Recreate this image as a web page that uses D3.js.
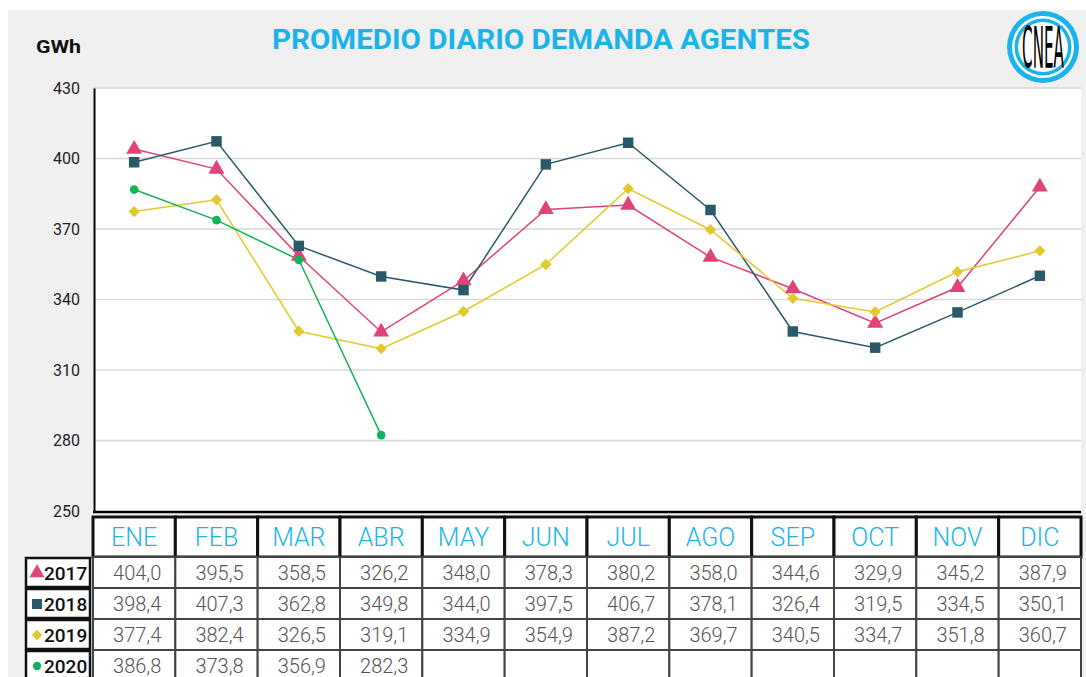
<!DOCTYPE html>
<html><head><meta charset="utf-8">
<script src="https://cdn.jsdelivr.net/npm/d3@7"></script>
<style>body{margin:0;background:#fff}svg{display:block}</style>
</head><body><svg id="c" width="1086" height="677"></svg>
<script>
const months = ["ENE","FEB","MAR","ABR","MAY","JUN","JUL","AGO","SEP","OCT","NOV","DIC"];
const years = ["2017","2018","2019","2020"];
const v2017 = [404.0,395.5,358.5,326.2,348.0,378.3,380.2,358.0,344.6,329.9,345.2,387.9];
const v2018 = [398.4,407.3,362.8,349.8,344.0,397.5,406.7,378.1,326.4,319.5,334.5,350.1];
const v2019 = [377.4,382.4,326.5,319.1,334.9,354.9,387.2,369.7,340.5,334.7,351.8,360.7];
const v2020 = [386.8,373.8,356.9,282.3];
const yTicks = [250,280,310,340,370,400,430];
const seriesColors = ["#e0427a","#2a5a6a","#e2c92e","#14b35a"];
const seriesSymbols = [d3.symbolTriangle, d3.symbolSquare, d3.symbolSquare, d3.symbolCircle];
const symbolRot = [0, 0, 45, 0];
const symbolSizes = [110, 110, 64, 60];
const series = [v2017, v2018, v2019, v2020];

const svg = d3.select("#c");
const L = 93, R = 1081, T = 88, B = 511;
svg.append("rect").attr("x",8).attr("y",10).attr("width",1078).attr("height",667).attr("fill","#f0f0f0");
svg.append("rect").attr("x",L).attr("y",T).attr("width",R-L).attr("height",B-T).attr("fill","#fff");

const x = d3.scaleBand().domain(months).range([L, R]);
const y = d3.scaleLinear().domain([250,430]).range([B, T]);

// grid
svg.append("g").selectAll("line").data(yTicks.filter(t=>t>250)).join("line")
  .attr("x1",L).attr("x2",R).attr("y1",d=>y(d)).attr("y2",d=>y(d))
  .attr("stroke","#d9d9d9").attr("stroke-width",1.5);

// y axis
const ya = svg.append("g").attr("transform",`translate(${L+1},0)`)
  .call(d3.axisLeft(y).tickValues(yTicks).tickSize(0).tickPadding(14));
ya.select(".domain").attr("stroke","#000").attr("stroke-width",2);
ya.selectAll("text").attr("font-family","Roboto, sans-serif").attr("font-size",16).attr("fill","#222");
svg.append("line").attr("x1",L).attr("x2",R).attr("y1",B+1).attr("y2",B+1).attr("stroke","#000").attr("stroke-width",2.5);

// lines
const line = d3.line().x((d,i)=>x(months[i])+x.bandwidth()/2).y(d=>y(d));
series.forEach((s,k)=>{
  svg.append("path").datum(s).attr("d",line).attr("fill","none")
    .attr("stroke",seriesColors[k]).attr("stroke-width",1.5);
});
series.forEach((s,k)=>{
  svg.append("g").selectAll("path").data(s).join("path")
    .attr("transform",(d,i)=>`translate(${x(months[i])+x.bandwidth()/2},${y(d)}) rotate(${symbolRot[k]})`)
    .attr("d",d3.symbol().type(seriesSymbols[k]).size(symbolSizes[k]))
    .attr("fill",seriesColors[k]);
});

// title etc
svg.append("text").attr("x",541).attr("y",49).attr("text-anchor","middle")
  .attr("font-family","Roboto, sans-serif").attr("font-weight",700).attr("font-size",27)
  .attr("fill","#1ab4ea").attr("textLength",538).attr("lengthAdjust","spacingAndGlyphs")
  .text("PROMEDIO DIARIO DEMANDA AGENTES");
svg.append("text").attr("x",36).attr("y",53)
  .attr("font-family","Roboto, sans-serif").attr("font-weight",700).attr("font-size",19)
  .attr("fill","#111").attr("textLength",45).attr("lengthAdjust","spacingAndGlyphs").text("GWh");

// logo
const lg = svg.append("g").attr("transform","translate(1043,47)");
lg.append("circle").attr("r",36).attr("fill","#1ab4ea");
lg.append("circle").attr("r",31).attr("fill","#fff");
lg.append("circle").attr("r",28.5).attr("fill","#1ab4ea");
lg.append("circle").attr("r",25).attr("fill","#fff");
lg.append("text").attr("text-anchor","middle").attr("y",8.6).attr("transform","scale(0.72,2.4)")
  .attr("font-family","'DejaVu Sans Condensed','DejaVu Sans', sans-serif").attr("font-weight",400).attr("font-size",24)
  .attr("fill","#000").attr("textLength",58).attr("lengthAdjust","spacingAndGlyphs").text("CNEA");

// table header
const hT = 517, hB = 557, rowH = 31;
const hdr = svg.append("g");
hdr.selectAll("rect").data(months).join("rect")
  .attr("x",d=>x(d)).attr("y",hT).attr("width",x.bandwidth()).attr("height",hB-hT)
  .attr("fill","#fff").attr("stroke","#111").attr("stroke-width",3);
hdr.selectAll("text").data(months).join("text")
  .attr("x",d=>x(d)+x.bandwidth()/2).attr("y",hB-11).attr("text-anchor","middle")
  .attr("font-family","Roboto, sans-serif").attr("font-weight",300).attr("font-size",25)
  .attr("fill","#1ab4ea").text(d=>d);

// table rows
years.forEach((yr,k)=>{
  const top = hB + k*rowH;
  const g = svg.append("g");
  g.selectAll("rect").data(months).join("rect")
    .attr("x",d=>x(d)).attr("y",top).attr("width",x.bandwidth()).attr("height",rowH)
    .attr("fill","#fff").attr("stroke","#444").attr("stroke-width",2);
  g.selectAll("text").data(series[k]).join("text")
    .attr("x",(d,i)=>x(months[i])+x.bandwidth()/2+3).attr("y",top+23).attr("text-anchor","middle")
    .attr("font-family","Roboto, sans-serif").attr("font-weight",300).attr("font-size",20)
    .attr("fill","#555").text(d=>d3.format(".1f")(d).replace(".",","));
  g.append("rect").attr("x",26).attr("y",top+1).attr("width",64).attr("height",rowH-2)
    .attr("fill","#fff").attr("stroke","#111").attr("stroke-width",2.5);
  g.append("path").attr("transform",`translate(37,${top+16}) rotate(${symbolRot[k]})`)
    .attr("d",d3.symbol().type(seriesSymbols[k]).size(symbolSizes[k]*0.9)).attr("fill",seriesColors[k]);
  g.append("text").attr("x",44).attr("y",top+23)
    .attr("font-family","Roboto, sans-serif").attr("font-weight",500).attr("font-size",19)
    .attr("fill","#111").text(yr);
});
</script></body></html>
